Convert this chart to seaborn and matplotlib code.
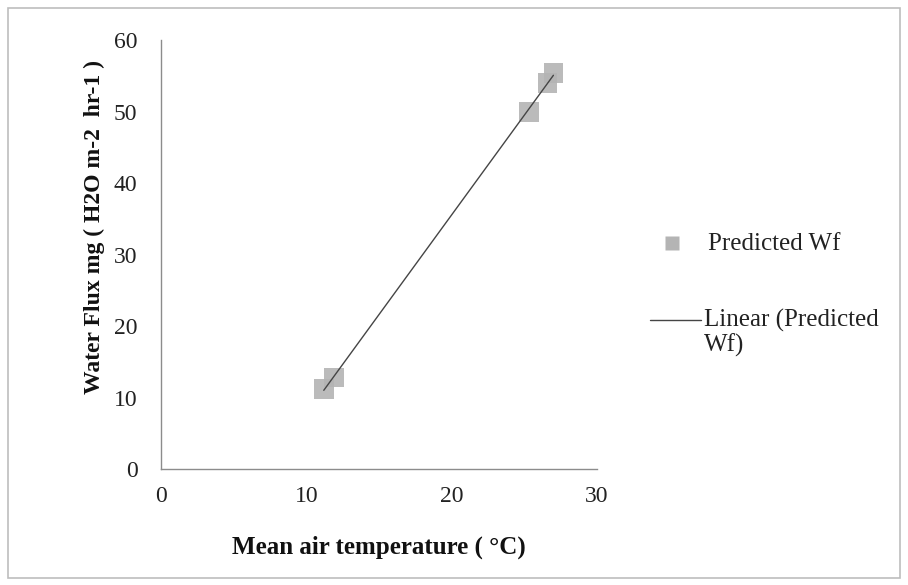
import numpy as np
import pandas as pd
import matplotlib
matplotlib.use("Agg")
import matplotlib.pyplot as plt
from matplotlib.lines import Line2D
from matplotlib.patches import Rectangle
import seaborn as sns

# Mean air temperature (°C) and predicted water flux
temperature = [11.2, 11.9, 25.3, 26.6, 27.0]
predicted_wf = [11.2, 12.8, 49.9, 54.0, 55.4]

x_ticks = [0, 10, 20, 30]
y_ticks = [0, 10, 20, 30, 40, 50, 60]

df = pd.DataFrame({"temp": temperature, "wf": predicted_wf})

sns.set_style("white")
plt.rcParams["font.family"] = ["Liberation Serif", "DejaVu Serif"]

fs = 17
W, H = 908, 585

fig = plt.figure(figsize=(W / 100, H / 100), dpi=100)
ax = fig.add_axes([161 / W, 1 - 469 / H, 436 / W, 429 / H])

marker_color = "#b4b4b4"
line_color = "#454545"
text_color = "#222222"

sns.scatterplot(data=df, x="temp", y="wf", marker="s", s=200, color=marker_color,
                edgecolor="none", alpha=0.9, ax=ax, zorder=2)
sns.regplot(data=df, x="temp", y="wf", scatter=False, ci=None, ax=ax,
            line_kws={"color": line_color, "lw": 1.0, "zorder": 3})

ax.set_xlim(0, 30)
ax.set_ylim(0, 60)
ax.set_xticks(x_ticks)
ax.set_yticks(y_ticks)

for side in ("top", "right"):
    ax.spines[side].set_visible(False)
for side in ("left", "bottom"):
    ax.spines[side].set_color("#8c8c8c")
    ax.spines[side].set_linewidth(1.0)

ax.tick_params(axis="both", which="major", length=5, width=1.0, color="#8c8c8c",
               labelsize=fs, labelcolor=text_color, direction="out")
ax.tick_params(axis="y", pad=12)
ax.tick_params(axis="x", pad=7)

ax.set_xlabel("Mean air temperature ( °C)", fontsize=18, fontweight="bold",
              color="#111111", labelpad=21)
ax.set_ylabel("Water Flux mg ( H2O m-2  hr-1 )", fontsize=fs, fontweight="bold",
              color="#111111")
ax.yaxis.set_label_coords(-0.128, 0.565)

# legend: square marker entry and trendline entry
fig.add_artist(Line2D([672 / W], [1 - 243 / H], marker="s", linestyle="none",
                      markersize=10, markerfacecolor=marker_color,
                      markeredgecolor="none", transform=fig.transFigure))
fig.text(708 / W, 1 - 244 / H, "Predicted Wf", fontsize=18, color=text_color,
         va="center", ha="left")
fig.add_artist(Line2D([650 / W, 701 / W], [1 - 320 / H, 1 - 320 / H],
                      color=line_color, lw=1.0, transform=fig.transFigure))
fig.text(704 / W, 1 - 320 / H, "Linear (Predicted", fontsize=18, color=text_color,
         va="center", ha="left")
fig.text(704 / W, 1 - 345 / H, "Wf)", fontsize=18, color=text_color,
         va="center", ha="left")

# chart-area border
fig.patches.append(Rectangle((8 / W, 7 / H), 892 / W, 570 / H,
                             transform=fig.transFigure, fill=False,
                             edgecolor="#bdbdbd", lw=1.2))

fig.savefig("out.png", dpi=100, facecolor="white")
